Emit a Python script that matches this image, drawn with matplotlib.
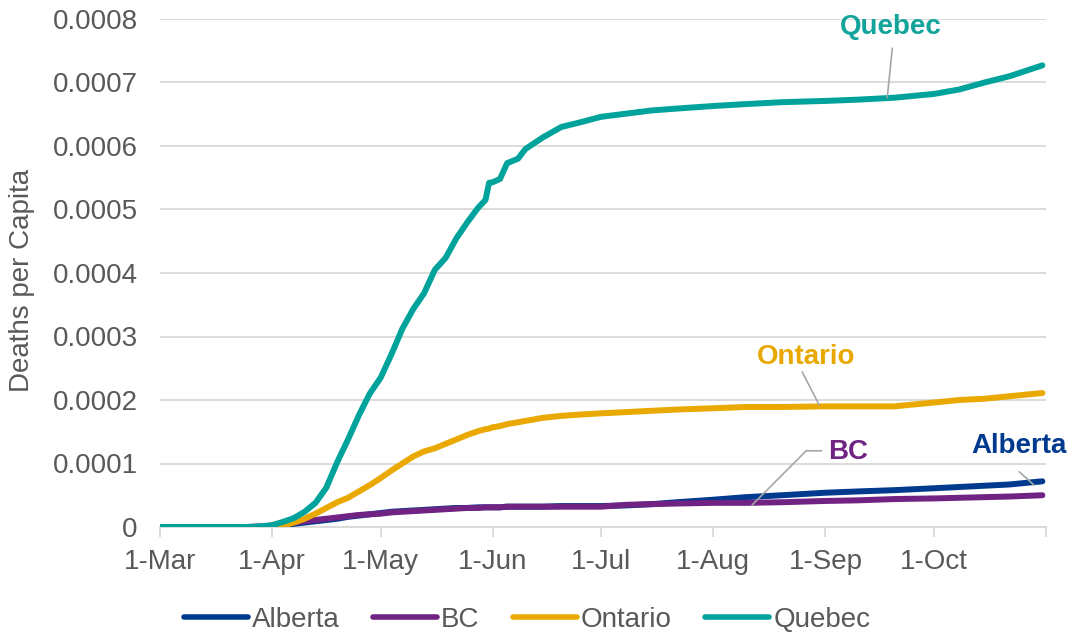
import matplotlib
matplotlib.use("Agg")
import matplotlib.pyplot as plt
import pandas as pd

plt.rcParams['font.family'] = ['Liberation Sans', 'DejaVu Sans']

dates = ["2020-03-01", "2020-03-15", "2020-03-25", "2020-03-29", "2020-04-01", "2020-04-04",
         "2020-04-07", "2020-04-10", "2020-04-13", "2020-04-16", "2020-04-19", "2020-04-22",
         "2020-04-25", "2020-04-28", "2020-05-01", "2020-05-04", "2020-05-07", "2020-05-10",
         "2020-05-13", "2020-05-16", "2020-05-19", "2020-05-22", "2020-05-25", "2020-05-28",
         "2020-05-30", "2020-05-31", "2020-06-01", "2020-06-03", "2020-06-05", "2020-06-08",
         "2020-06-10", "2020-06-15", "2020-06-20", "2020-06-25", "2020-07-01", "2020-07-08",
         "2020-07-15", "2020-07-22", "2020-08-01", "2020-08-10", "2020-08-20", "2020-09-01",
         "2020-09-10", "2020-09-20", "2020-10-01", "2020-10-08", "2020-10-15", "2020-10-22",
         "2020-10-31"]

alberta = [0, 0, 0, 0, 1e-6, 3e-6, 5e-6, 7e-6, 9e-6, 11e-6, 13e-6, 16e-6, 18e-6, 20e-6,
           22e-6, 24e-6, 25e-6, 26e-6, 27e-6, 28e-6, 29e-6, 30e-6, 30e-6, 31e-6, 31e-6, 31e-6,
           31e-6, 31e-6, 32e-6, 32e-6, 32e-6, 32e-6, 33e-6, 33e-6, 33e-6, 34e-6, 36e-6, 39e-6,
           43e-6, 47e-6, 50e-6, 54e-6, 56e-6, 58e-6, 61e-6, 63e-6, 65e-6, 67e-6, 72e-6]

bc = [0, 0, 0, 1e-6, 2e-6, 4e-6, 7e-6, 9e-6, 11e-6, 13e-6, 15e-6, 17e-6, 19e-6, 20e-6,
      21e-6, 23e-6, 24e-6, 25e-6, 26e-6, 27e-6, 28e-6, 29e-6, 30e-6, 30e-6, 31e-6, 31e-6,
      31e-6, 31e-6, 32e-6, 32e-6, 32e-6, 32e-6, 32e-6, 32e-6, 32e-6, 35e-6, 36e-6, 37e-6,
      38e-6, 38e-6, 39e-6, 41e-6, 42e-6, 44e-6, 45e-6, 46e-6, 47e-6, 48e-6, 50e-6]

ontario = [0, 0, 0, 0, 0, 2e-6, 7e-6, 13e-6, 21e-6, 30e-6, 39e-6, 46e-6, 56e-6, 66e-6,
           77e-6, 89e-6, 100e-6, 111e-6, 119e-6, 124e-6, 131e-6, 138e-6, 145e-6, 151e-6,
           154e-6, 155e-6, 157e-6, 159e-6, 162e-6, 165e-6, 167e-6, 172e-6, 175e-6, 177e-6,
           179e-6, 181e-6, 183e-6, 185e-6, 187e-6, 189e-6, 189e-6, 190e-6, 190e-6, 190e-6,
           196e-6, 200e-6, 202e-6, 206e-6, 211e-6]

quebec = [0, 0, 0, 1e-6, 3e-6, 8e-6, 14e-6, 24e-6, 38e-6, 62e-6, 102e-6, 138e-6, 176e-6,
          210e-6, 235e-6, 272e-6, 312e-6, 343e-6, 368e-6, 405e-6, 424e-6, 455e-6, 480e-6,
          503e-6, 515e-6, 542e-6, 543e-6, 548e-6, 573e-6, 580e-6, 595e-6, 614e-6, 630e-6,
          637e-6, 646e-6, 651e-6, 656e-6, 659e-6, 663e-6, 666e-6, 669e-6, 671e-6, 673e-6,
          676e-6, 682e-6, 689e-6, 700e-6, 710e-6, 727e-6]

series_names = ["Alberta", "BC", "Ontario", "Quebec"]
series_colors = ["#003A8F", "#702382", "#EAA900", "#00A39B"]

month_ticks = ["2020-03-01", "2020-04-01", "2020-05-01", "2020-06-01", "2020-07-01",
               "2020-08-01", "2020-09-01", "2020-10-01", "2020-11-01"]
month_labels = ["1-Mar", "1-Apr", "1-May", "1-Jun", "1-Jul", "1-Aug", "1-Sep", "1-Oct", ""]
y_ticks = [0, 0.0001, 0.0002, 0.0003, 0.0004, 0.0005, 0.0006, 0.0007, 0.0008]
y_labels = ["0", "0.0001", "0.0002", "0.0003", "0.0004", "0.0005", "0.0006", "0.0007", "0.0008"]

x = pd.to_datetime(dates)
xt = pd.to_datetime(month_ticks)

TXT = "#595959"
GRID = "#D9D9D9"

fig = plt.figure(figsize=(10.7, 6.35), dpi=100)
ax = fig.add_axes([160 / 1070, 1 - 527 / 635, 886 / 1070, 508 / 635])

for name, vals, col in zip(series_names, [alberta, bc, ontario, quebec], series_colors):
    ax.plot(x, vals, color=col, lw=4.3, solid_capstyle='round', solid_joinstyle='round',
            label=name, zorder=3)

ax.set_xlim(xt[0], xt[-1])
ax.set_ylim(0, 0.0008)
ax.set_yticks(y_ticks)
ax.set_yticklabels(y_labels)
ax.set_xticks(xt)
ax.set_xticklabels(month_labels)

ax.grid(axis='y', color=GRID, lw=1.3, zorder=0)
ax.set_axisbelow(True)
for s in ['top', 'right', 'left']:
    ax.spines[s].set_visible(False)
ax.spines['bottom'].set_color(GRID)
ax.spines['bottom'].set_linewidth(1.3)
ax.tick_params(axis='y', length=0, pad=16, labelsize=20, labelcolor=TXT)
ax.tick_params(axis='x', length=7, width=1.3, color=GRID, pad=9, labelsize=20, labelcolor=TXT)

ax.set_ylabel("Deaths per Capita", fontsize=20, color=TXT)
ax.yaxis.set_label_coords(-0.141, 0.486)


def dd(d):
    return pd.Timestamp("2020-03-01") + pd.Timedelta(days=d)


LEAD = "#A6A6A6"
# Quebec
ax.text(dd(202.2), 0.000787, "Quebec", color="#12A39B", fontsize=20, fontweight='bold',
        ha='center', va='center')
ax.annotate("", xy=(dd(201.1), 0.000676), xytext=(dd(202.5), 0.000754),
            arrowprops=dict(arrowstyle='-', color=LEAD, lw=1.2, shrinkA=0, shrinkB=0), zorder=4)
# Ontario
ax.text(dd(178.7), 0.000268, "Ontario", color="#E8A800", fontsize=20, fontweight='bold',
        ha='center', va='center')
ax.annotate("", xy=(dd(182.3), 0.000192), xytext=(dd(177.6), 0.000244),
            arrowprops=dict(arrowstyle='-', color=LEAD, lw=1.2, shrinkA=0, shrinkB=0), zorder=4)
# BC
ax.text(dd(190.3), 0.000118, "BC", color="#702382", fontsize=20, fontweight='bold',
        ha='center', va='center')
ax.plot([dd(182.9), dd(178.7), dd(163.8)], [0.00012, 0.00012, 0.000035], color=LEAD, lw=1.2,
        zorder=4)
# Alberta
ax.text(dd(237.6), 0.000128, "Alberta", color="#003A8F", fontsize=20, fontweight='bold',
        ha='center', va='center', clip_on=False)
ax.annotate("", xy=(dd(241.7), 0.000066), xytext=(dd(237.6), 0.000087),
            arrowprops=dict(arrowstyle='-', color=LEAD, lw=1.2, shrinkA=0, shrinkB=0), zorder=4)

leg = fig.legend(loc='center', bbox_to_anchor=(0.4925, 1 - 620 / 635), ncol=4, frameon=False,
                 fontsize=20, handlelength=2.3, handletextpad=0.15, columnspacing=1.2,
                 labelcolor=TXT)
for h in leg.get_lines():
    h.set_linewidth(4)

fig.savefig("out.png", dpi=100)
